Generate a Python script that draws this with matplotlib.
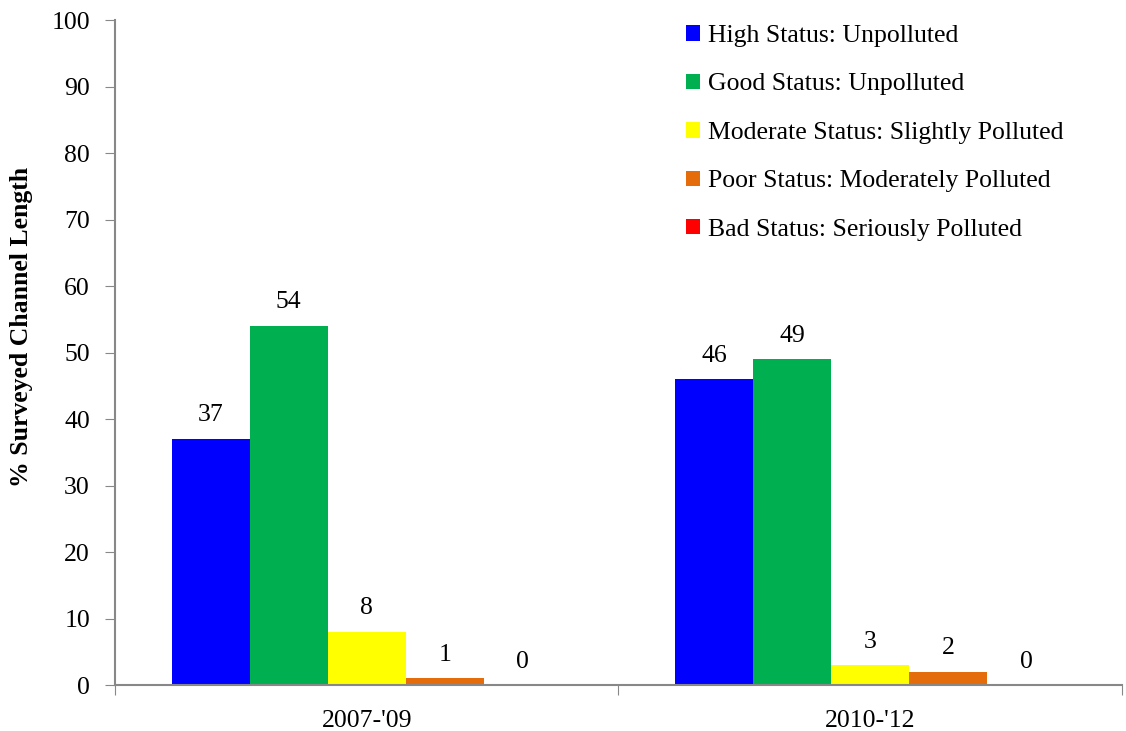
import numpy as np
import matplotlib
matplotlib.use("Agg")
import matplotlib.pyplot as plt

plt.rcParams['font.family'] = ['Liberation Serif', 'DejaVu Serif']

# Data
periods = ["2007-'09", "2010-'12"]
statuses = ["High Status: Unpolluted",
            "Good Status: Unpolluted",
            "Moderate Status: Slightly Polluted",
            "Poor Status: Moderately Polluted",
            "Bad Status: Seriously Polluted"]
high = [37, 46]
good = [54, 49]
moderate = [8, 3]
poor = [1, 2]
bad = [0, 0]
series = [high, good, moderate, poor, bad]
colors = ["#0000FF", "#00B050", "#FFFF00", "#E46C0A", "#FF0000"]

fs = 18.5

fig = plt.figure(figsize=(11.26, 7.31), dpi=100)
ax = fig.add_axes([0.1021, 0.0629, 0.8943, 0.9097])

x = np.arange(len(periods))
width = 0.155
for i, (vals, col, lab) in enumerate(zip(series, colors, statuses)):
    pos = x + (i - 2) * width
    bars = ax.bar(pos, vals, width, color=col, label=lab)
    for b, v in zip(bars, vals):
        ax.annotate(str(v), (b.get_x() + b.get_width() / 2, v),
                    xytext=(0, 9), textcoords="offset points",
                    ha="center", va="bottom", fontsize=fs)

ax.set_xlim(-0.5, 1.5)
ax.set_ylim(0, 100)
ax.set_yticks(range(0, 101, 10))
ax.set_ylabel("% Surveyed Channel Length", fontsize=fs, fontweight="bold")
ax.yaxis.set_label_coords(-0.081, 0.538)

# tick marks at category boundaries, labels at centres
ax.set_xticks([-0.5, 0.5, 1.5])
ax.set_xticklabels([])
ax.set_xticks(x, minor=True)
ax.set_xticklabels(periods, minor=True)
ax.tick_params(axis="x", which="minor", length=0, labelsize=fs, pad=18)
ax.tick_params(axis="x", which="major", length=7, color="#888888")
ax.tick_params(axis="y", length=7, color="#888888", labelsize=fs, pad=11)

for s in ["top", "right"]:
    ax.spines[s].set_visible(False)
for s in ["left", "bottom"]:
    ax.spines[s].set_color("#888888")
    ax.spines[s].set_linewidth(1.5)

ax.legend(loc="upper left", bbox_to_anchor=(0.557, 1.008), frameon=False,
          fontsize=fs, handlelength=0.55, handleheight=0.55,
          handletextpad=0.3, labelspacing=1.03, borderaxespad=0)

fig.savefig("out.png", dpi=100)
